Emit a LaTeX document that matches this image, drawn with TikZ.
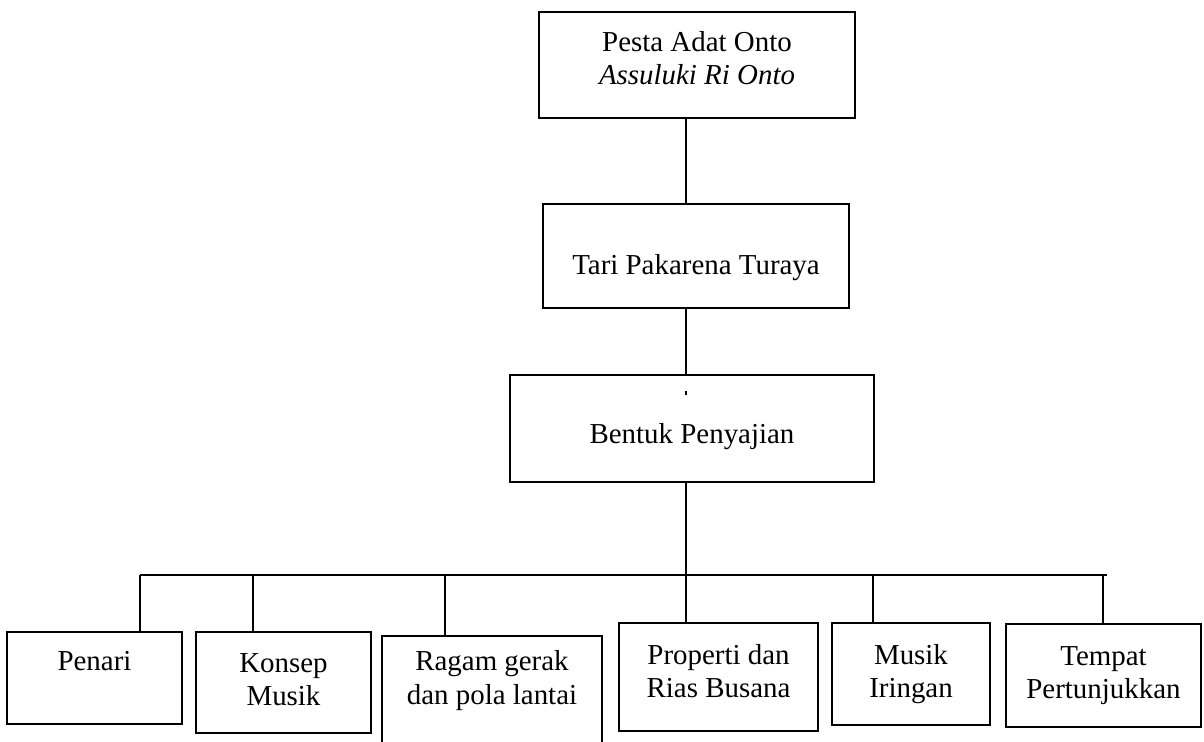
\documentclass[tikz,border=0pt]{standalone}
\usepackage{fontspec}
\setmainfont{Liberation Serif}

\tikzset{
  box/.style={draw, align=center, inner sep=0pt, line width=0.8pt},
  link/.style={line width=0.8pt}
}

\begin{document}
\begin{tikzpicture}[x=0.415pt, y=-0.415pt, font=\fontsize{12}{13.8}\selectfont]
\useasboundingbox (0,0) rectangle (1204,742);
\node [box, minimum width=131.1pt, minimum height=44pt, text depth=6pt] (onto) at (697,65) {Pesta Adat Onto \\ \textit{Assuluki Ri Onto}};
\node [box, minimum width=127pt, minimum height=43.2pt, text height=18pt, text depth=2.6pt] (tari) at (696,256) {Tari Pakarena Turaya};
\node [box, minimum width=151.1pt, minimum height=44.4pt, text height=14.8pt, text depth=2.6pt] (bentuk) at (692,428.5) {Bentuk Penyajian};
\node [box, minimum width=72.6pt, minimum height=38.2pt] (penari) at (94.5,678) {Penari \\ \mbox{}};
\node [box, minimum width=72.6pt, minimum height=41.9pt, text depth=2.4pt] (konsep) at (283.5,682.5) {Konsep \\ Musik};
\node [box, minimum width=91.3pt, minimum height=48.1pt] (ragam) at (492,694) {Ragam gerak \\ dan pola lantai \\ \mbox{}};
\node [box, minimum width=82.6pt, minimum height=44.8pt, text depth=5pt] (properti) at (718.5,677) {Properti dan \\ Rias Busana};
\node [box, minimum width=65.6pt, minimum height=42.3pt] (musik) at (911,674) {Musik \\ Iringan};
\node [box, minimum width=80.9pt, minimum height=42.7pt] (tempat) at (1103.5,675.5) {Tempat \\ Pertunjukkan};
% spine and bus
\coordinate (spine) at (686,575);
\coordinate (busL) at (140,575);
\coordinate (busR) at (1107,575);
\coordinate (d1) at (140,575);
\coordinate (d2) at (253,575);
\coordinate (d3) at (445,575);
\coordinate (d4) at (686,575);
\coordinate (d5) at (873,575);
\coordinate (d6) at (1103,575);
\draw[link] (onto.south -| spine) -- (tari.north -| spine);
\draw[link] (tari.south -| spine) -- (bentuk.north -| spine);
\draw[link] (bentuk.north -| spine) ++(0,17) -- ++(0,4);
\draw[link] (bentuk.south -| spine) -- (spine);
\draw[link] (busL) -- (busR);
% from bus to the boxes
\draw[link] (d1) -- (d1 |- penari.north);
\draw[link] (d2) -- (d2 |- konsep.north);
\draw[link] (d3) -- (d3 |- ragam.north);
\draw[link] (d4) -- (d4 |- properti.north);
\draw[link] (d5) -- (d5 |- musik.north);
\draw[link] (d6) -- (d6 |- tempat.north);
\end{tikzpicture}
\end{document}
